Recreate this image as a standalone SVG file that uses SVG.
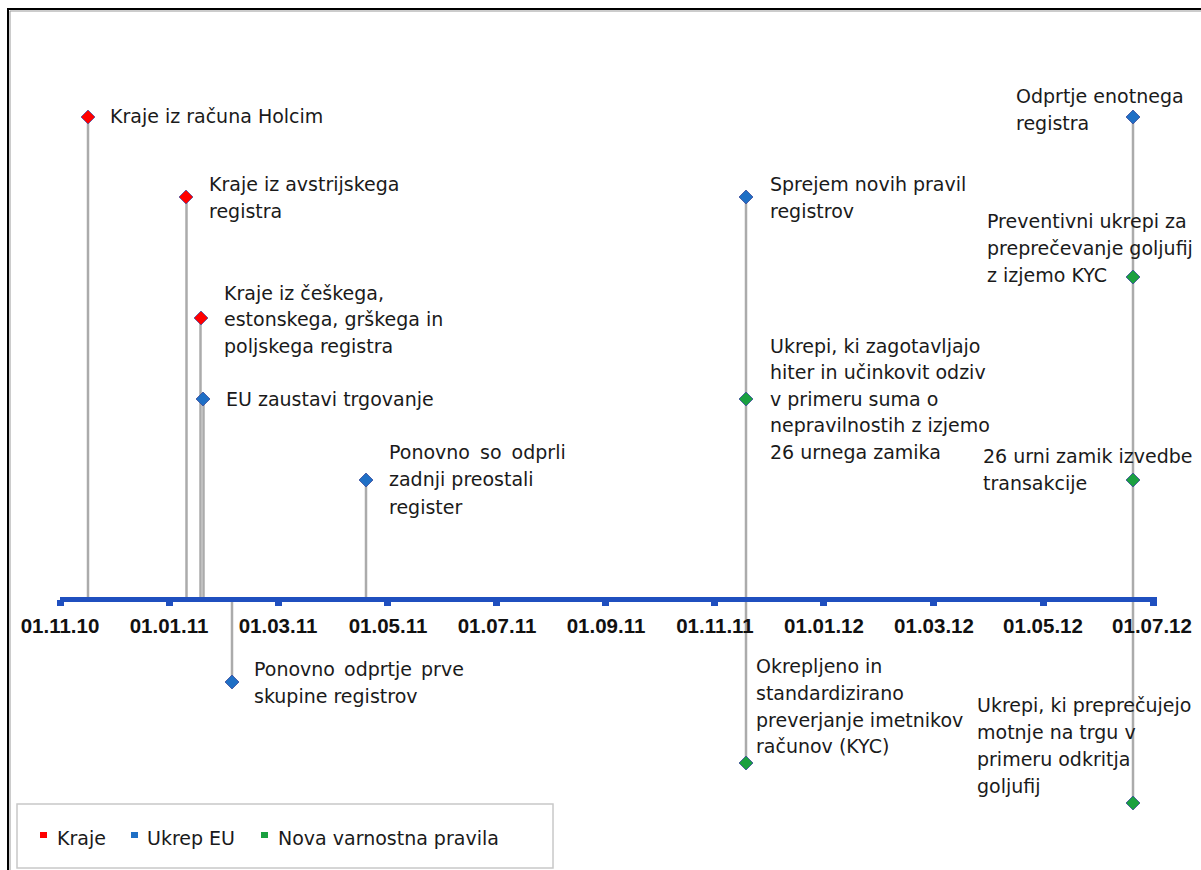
<svg xmlns="http://www.w3.org/2000/svg" width="1201" height="870" viewBox="0 0 1201 870">
<style>
.t{font-family:"DejaVu Sans",Verdana,sans-serif;font-size:19px;fill:#1a1a1a}
.d{font-family:"Liberation Sans",Arial,sans-serif;font-size:20.5px;font-weight:bold;fill:#111;text-anchor:middle}
.c{stroke:#ababab;stroke-width:2.5;fill:none}
.red{fill:#ff0000;stroke:#5050a0;stroke-width:0.8}
.blue{fill:#1f6fc5;stroke:#3a4a9a;stroke-width:0.8}
.green{fill:#1aa040;stroke:#3a4a9a;stroke-width:0.8}
</style>
<defs>
<path id="dm" d="M0,-7 L7,0 L0,7 L-7,0 Z"/>
</defs>
<rect x="0" y="0" width="1201" height="870" fill="#fff"/>
<path d="M8,870 V9 H1201" fill="none" stroke="#000" stroke-width="2"/>
<path d="M10,870 V11 H1201" fill="none" stroke="#999" stroke-width="1"/>

<g id="connectors">
<line class="c" x1="88" y1="117" x2="88" y2="600"/>
<line class="c" x1="186.5" y1="197" x2="186.5" y2="600"/>
<line class="c" x1="200.5" y1="318" x2="200.5" y2="600"/>
<line class="c" x1="203.5" y1="399" x2="203.5" y2="600"/>
<line class="c" x1="366" y1="480" x2="366" y2="600"/>
<line class="c" x1="232" y1="600" x2="232" y2="682"/>
<line class="c" x1="746" y1="197" x2="746" y2="763"/>
<line class="c" x1="1133" y1="117" x2="1133" y2="803"/>
</g>

<g id="axis">
<rect x="60" y="597" width="1097" height="5" fill="#1f4fbf"/>
<g fill="#1f4fbf">
<rect x="57" y="600" width="7" height="6"/>
<rect x="166" y="600" width="7" height="6"/>
<rect x="275" y="600" width="7" height="6"/>
<rect x="384" y="600" width="7" height="6"/>
<rect x="493" y="600" width="7" height="6"/>
<rect x="602" y="600" width="7" height="6"/>
<rect x="711" y="600" width="7" height="6"/>
<rect x="820" y="600" width="7" height="6"/>
<rect x="930" y="600" width="7" height="6"/>
<rect x="1040" y="600" width="7" height="6"/>
<rect x="1150" y="600" width="7" height="6"/>
</g>
<text class="d" x="60" y="633">01.11.10</text>
<text class="d" x="169" y="633">01.01.11</text>
<text class="d" x="278" y="633">01.03.11</text>
<text class="d" x="388" y="633">01.05.11</text>
<text class="d" x="497" y="633">01.07.11</text>
<text class="d" x="606" y="633">01.09.11</text>
<text class="d" x="715" y="633">01.11.11</text>
<text class="d" x="824" y="633">01.01.12</text>
<text class="d" x="934" y="633">01.03.12</text>
<text class="d" x="1043" y="633">01.05.12</text>
<text class="d" x="1152" y="633">01.07.12</text>
</g>

<g id="n1"><use href="#dm" class="red" x="88" y="117"/><text class="t" x="110" y="123">Kraje iz računa Holcim</text></g>
<g id="n2"><use href="#dm" class="red" x="186" y="197"/><text class="t" x="209" y="191">Kraje iz avstrijskega</text><text class="t" x="209" y="218">registra</text></g>
<g id="n3"><use href="#dm" class="red" x="201" y="318"/><text class="t" x="224" y="300">Kraje iz češkega,</text><text class="t" x="224" y="326">estonskega, grškega in</text><text class="t" x="224" y="353">poljskega registra</text></g>
<g id="n4"><use href="#dm" class="blue" x="203" y="399"/><text class="t" x="226" y="406">EU zaustavi trgovanje</text></g>
<g id="n5"><use href="#dm" class="blue" x="366" y="480"/><text class="t" x="389" y="459" word-spacing="4">Ponovno so odprli</text><text class="t" x="389" y="486">zadnji preostali</text><text class="t" x="389" y="514">register</text></g>
<g id="n6"><use href="#dm" class="blue" x="232" y="682"/><text class="t" x="254" y="676" word-spacing="3">Ponovno odprtje prve</text><text class="t" x="254" y="703">skupine registrov</text></g>
<g id="n7"><use href="#dm" class="blue" x="746" y="197"/><text class="t" x="770" y="191">Sprejem novih pravil</text><text class="t" x="770" y="218">registrov</text></g>
<g id="n8"><use href="#dm" class="green" x="746" y="399"/><text class="t" x="770" y="353">Ukrepi, ki zagotavljajo</text><text class="t" x="770" y="379">hiter in učinkovit odziv</text><text class="t" x="770" y="406">v primeru suma o</text><text class="t" x="770" y="432">nepravilnostih z izjemo</text><text class="t" x="770" y="459">26 urnega zamika</text></g>
<g id="n9"><use href="#dm" class="green" x="746" y="763"/><text class="t" x="756" y="673">Okrepljeno in</text><text class="t" x="756" y="700">standardizirano</text><text class="t" x="756" y="727">preverjanje imetnikov</text><text class="t" x="756" y="753">računov (KYC)</text></g>
<g id="n10"><use href="#dm" class="blue" x="1133" y="117"/><text class="t" x="1016" y="103">Odprtje enotnega</text><text class="t" x="1016" y="130">registra</text></g>
<g id="n11"><use href="#dm" class="green" x="1133" y="277"/><text class="t" x="987" y="228">Preventivni ukrepi za</text><text class="t" x="987" y="255">preprečevanje goljufij</text><text class="t" x="987" y="282">z izjemo KYC</text></g>
<g id="n12"><use href="#dm" class="green" x="1133" y="480"/><text class="t" x="983" y="463">26 urni zamik izvedbe</text><text class="t" x="983" y="490">transakcije</text></g>
<g id="n13"><use href="#dm" class="green" x="1133" y="803"/><text class="t" x="977" y="712">Ukrepi, ki preprečujejo</text><text class="t" x="977" y="739">motnje na trgu v</text><text class="t" x="977" y="766">primeru odkritja</text><text class="t" x="977" y="793">goljufij</text></g>

<g id="legend">
<rect x="17" y="804" width="536" height="64" fill="#fff" stroke="#c8c8c8" stroke-width="1.5"/>
<rect x="40" y="832" width="7" height="6" fill="#ff0000"/>
<text class="t" x="57" y="845">Kraje</text>
<rect x="131" y="832" width="7" height="6" fill="#1f6fc5"/>
<text class="t" x="147" y="845">Ukrep EU</text>
<rect x="261" y="832" width="7" height="6" fill="#1aa040"/>
<text class="t" x="278" y="845">Nova varnostna pravila</text>
</g>
</svg>
